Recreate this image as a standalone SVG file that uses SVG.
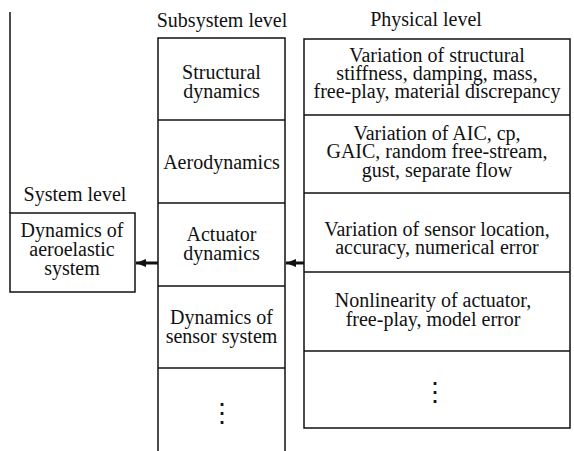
<svg xmlns="http://www.w3.org/2000/svg" width="574" height="451" viewBox="0 0 574 451">
<style>
text{font-family:"Liberation Serif","Times New Roman",serif;font-size:20px;fill:#111;text-anchor:middle}
.dots{font-size:26px}
.box{fill:none;stroke:#111;stroke-width:1.5}
.conn{stroke:#111;stroke-width:3;fill:none}
</style>
<defs>
<marker id="ah" viewBox="0 0 10 8" refX="10" refY="4" markerWidth="10" markerHeight="8" markerUnits="userSpaceOnUse" orient="auto">
<path d="M0,0 L10,4 L0,8 z" fill="#111"/>
</marker>
</defs>
<rect width="574" height="451" fill="#fff"/>
<text x="75" y="201">System level</text>
<text x="222" y="27">Subsystem level</text>
<text x="426" y="26">Physical level</text>
<g id="system">
<line class="box" x1="10" y1="12" x2="10" y2="213"/>
<rect class="box" x="10" y="213" width="125" height="79"/>
<text x="72" y="237">Dynamics of</text>
<text x="72" y="256">aeroelastic</text>
<text x="72" y="275">system</text>
</g>
<g id="subsystem">
<path class="box" d="M158,451 V38 H285 V451"/>
<line class="box" x1="158" y1="120" x2="285" y2="120"/>
<line class="box" x1="158" y1="203" x2="285" y2="203"/>
<line class="box" x1="158" y1="286" x2="285" y2="286"/>
<line class="box" x1="158" y1="368" x2="285" y2="368"/>
</g>
<g id="structural"><text x="221.5" y="79">Structural</text><text x="221.5" y="98">dynamics</text></g>
<g id="aero"><text x="221.5" y="169">Aerodynamics</text></g>
<g id="actuator"><text x="221.5" y="241">Actuator</text><text x="221.5" y="260">dynamics</text></g>
<g id="sensor"><text x="221.5" y="324">Dynamics of</text><text x="221.5" y="343">sensor system</text></g>
<g id="sub-more"><text class="dots" x="221.5" y="422">⋮</text></g>
<g id="physical">
<rect class="box" x="304" y="39" width="266" height="389"/>
<line class="box" x1="304" y1="115" x2="570" y2="115"/>
<line class="box" x1="304" y1="193" x2="570" y2="193"/>
<line class="box" x1="304" y1="272" x2="570" y2="272"/>
<line class="box" x1="304" y1="351" x2="570" y2="351"/>
</g>
<g id="phys-structural"><text x="437" y="62">Variation of structural</text><text x="437" y="80">stiffness, damping, mass,</text><text x="437" y="98">free-play, material discrepancy</text></g>
<g id="phys-aero"><text x="437" y="140">Variation of AIC, cp,</text><text x="437" y="158">GAIC, random free-stream,</text><text x="437" y="177">gust, separate flow</text></g>
<g id="phys-sensor"><text x="437" y="236">Variation of sensor location,</text><text x="437" y="254">accuracy, numerical error</text></g>
<g id="phys-actuator"><text x="433" y="307">Nonlinearity of actuator,</text><text x="433" y="326">free-play, model error</text></g>
<g id="phys-more"><text class="dots" x="435" y="401">⋮</text></g>
<g id="connectors">
<line class="conn" x1="304" y1="263" x2="286" y2="263" marker-end="url(#ah)"/>
<line class="conn" x1="158" y1="263" x2="136" y2="263" marker-end="url(#ah)"/>
</g>
</svg>
